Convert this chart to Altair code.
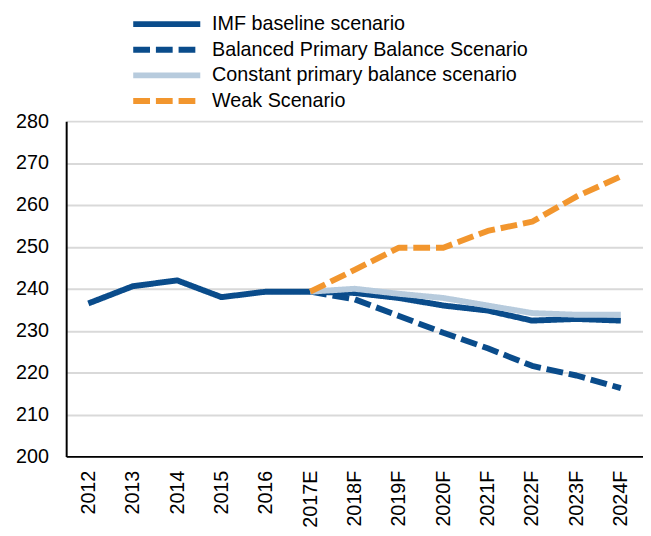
import altair as alt
import pandas as pd

years = ["2012", "2013", "2014", "2015", "2016", "2017E", "2018F", "2019F",
         "2020F", "2021F", "2022F", "2023F", "2024F"]
series_names = ["IMF baseline scenario", "Balanced Primary Balance Scenario",
                "Constant primary balance scenario", "Weak Scenario"]
imf_baseline = [236.5, 240.6, 242.0, 238.0, 239.3, 239.3, 239.0, 237.8, 236.0, 234.8, 232.4, 232.8, 232.4]
balanced = [None, None, None, None, None, 239.3, 237.5, 233.5, 229.5, 225.8, 221.6, 219.3, 216.3]
constant = [None, None, None, None, None, 239.3, 240.0, 238.8, 237.8, 236.0, 234.2, 233.8, 233.8]
weak = [None, None, None, None, None, 239.3, 244.5, 249.8, 249.8, 253.8, 256.0, 262.0, 266.8]
y_ticks = [200, 210, 220, 230, 240, 250, 260, 270, 280]

colors = ["#0A4C8B", "#0A4C8B", "#B7CBDD", "#F2962E"]
dashes = [[1, 0], [17, 6], [1, 0], [17, 6]]
widths = [6, 6, 6, 6]

rows = []
for name, vals in zip(series_names, [imf_baseline, balanced, constant, weak]):
    for i, (yr, v) in enumerate(zip(years, vals)):
        if v is not None:
            rows.append({"year": yr, "value": v, "series": name, "order": i})
df = pd.DataFrame(rows)

font = "Liberation Sans"
fs = 20

color_scale = alt.Scale(domain=series_names, range=colors)
dash_scale = alt.Scale(domain=series_names, range=dashes)
width_scale = alt.Scale(domain=series_names, range=widths)

chart = alt.Chart(df).mark_line(strokeCap="butt", strokeJoin="round").encode(
    x=alt.X("year:N", sort=years, scale=alt.Scale(domain=years, paddingInner=1, paddingOuter=0.5),
            axis=alt.Axis(title=None, labelAngle=-90, labelFontSize=fs, labelFont=font,
                          labelColor="black", ticks=False, labelPadding=14,
                          domainColor="black", domainWidth=2, labelAlign="right",
                          labelBaseline="middle")),
    y=alt.Y("value:Q", scale=alt.Scale(domain=[200, 280], nice=False, zero=False),
            axis=alt.Axis(title=None, values=y_ticks, labelFontSize=fs, labelFont=font,
                          labelColor="black", ticks=False, labelPadding=18,
                          domainColor="black", domainWidth=2, gridColor="#D9D9D9",
                          gridWidth=2)),
    color=alt.Color("series:N", scale=color_scale, sort=series_names,
                    legend=alt.Legend(title=None, orient="none", legendX=65, legendY=-111,
                                      labelFontSize=fs, labelFont=font, labelColor="black",
                                      symbolType="stroke", symbolSize=4624,
                                      symbolStrokeWidth=6, rowPadding=0, labelOffset=9,
                                      clipHeight=25.2, labelLimit=500)),
    strokeDash=alt.StrokeDash("series:N", scale=dash_scale, sort=series_names, legend=None),
    strokeWidth=alt.StrokeWidth("series:N", scale=width_scale, legend=None),
    order=alt.Order("order:Q"),
    detail="series:N",
).properties(
    width=585, height=340,
    padding={"left": 59, "top": 111, "right": 0, "bottom": 77},
    autosize=alt.AutoSizeParams(type="none"),
).configure_view(stroke=None).configure_axisX(grid=False)

chart.save("out.html", embed_options={"renderer": "svg", "actions": False})
